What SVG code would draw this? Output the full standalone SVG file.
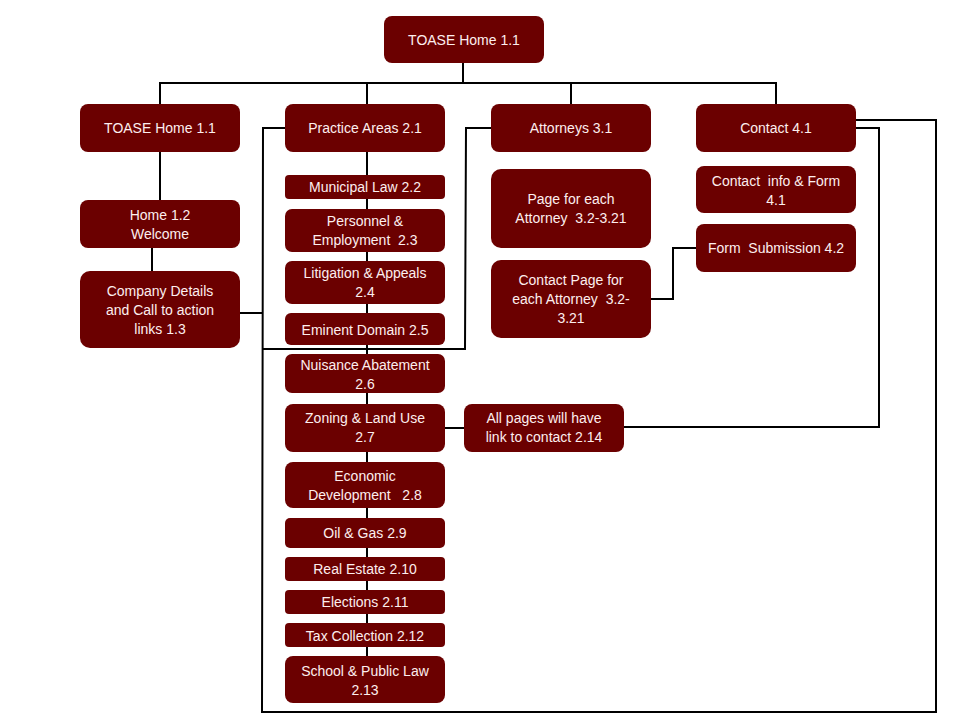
<svg xmlns="http://www.w3.org/2000/svg" width="960" height="720" viewBox="0 0 960 720">
<style>
.n rect{fill:#6b0000;}
.n text{fill:#fdeeee;font-family:"Liberation Sans",Arial,sans-serif;font-size:14px;text-anchor:middle;white-space:pre;}
.c{fill:none;stroke:#000;stroke-width:2;}
</style>
<rect width="960" height="720" fill="#fff"/>
<g id="connectors" class="c">
<polyline points="463,63 463,83"/>
<polyline points="160,104 160,83 776,83 776,104"/>
<polyline points="367,83 367,104"/>
<polyline points="571,83 571,104"/>
<polyline points="160,152 160,200"/>
<polyline points="152,248 152,271"/>
<polyline points="367,152 367,656"/>
<polyline points="240,313 262,313"/>
<polyline points="285,128 263,128 262,712 936,712 936,120 856,120"/>
<polyline points="491,128 466,128 465,349 262,349"/>
<polyline points="856,128 879,128 879,427 623,427"/>
<polyline points="445,428 464,428"/>
<polyline points="651,299 673,299 673,248 696,248"/>
</g>
<g id="n_top" class="n"><rect x="384" y="16" width="160" height="47" rx="8"/><text x="464" y="40" dy="0.35em">TOASE Home 1.1</text></g>
<g id="n_home11" class="n"><rect x="80" y="104" width="160" height="48" rx="8"/><text x="160" y="128" dy="0.35em">TOASE Home 1.1</text></g>
<g id="n_practice" class="n"><rect x="285" y="104" width="160" height="48" rx="8"/><text x="365" y="128" dy="0.35em">Practice Areas 2.1</text></g>
<g id="n_attorneys" class="n"><rect x="491" y="104" width="160" height="48" rx="8"/><text x="571" y="128" dy="0.35em">Attorneys 3.1</text></g>
<g id="n_contact" class="n"><rect x="696" y="104" width="160" height="48" rx="8"/><text x="776" y="128" dy="0.35em">Contact 4.1</text></g>
<g id="n_home12" class="n"><rect x="80" y="200" width="160" height="48" rx="8"/><text x="160" y="215" dy="0.35em">Home 1.2</text><text x="160" y="234" dy="0.35em">Welcome</text></g>
<g id="n_company" class="n"><rect x="80" y="271" width="160" height="77" rx="10"/><text x="160" y="291" dy="0.35em">Company Details</text><text x="160" y="310" dy="0.35em">and Call to action</text><text x="160" y="329" dy="0.35em">links 1.3</text></g>
<g id="n_municipal" class="n"><rect x="285" y="175" width="160" height="24" rx="4"/><text x="365" y="187" dy="0.35em">Municipal Law 2.2</text></g>
<g id="n_personnel" class="n"><rect x="285" y="209" width="160" height="43" rx="7"/><text x="365" y="221" dy="0.35em">Personnel &amp;</text><text x="365" y="240" dy="0.35em">Employment  2.3</text></g>
<g id="n_litigation" class="n"><rect x="285" y="261" width="160" height="43" rx="7"/><text x="365" y="273" dy="0.35em">Litigation &amp; Appeals</text><text x="365" y="292" dy="0.35em">2.4</text></g>
<g id="n_eminent" class="n"><rect x="285" y="313" width="160" height="32" rx="6"/><text x="365" y="330" dy="0.35em">Eminent Domain 2.5</text></g>
<g id="n_nuisance" class="n"><rect x="285" y="354" width="160" height="39" rx="7"/><text x="365" y="365" dy="0.35em">Nuisance Abatement</text><text x="365" y="384" dy="0.35em">2.6</text></g>
<g id="n_zoning" class="n"><rect x="285" y="404" width="160" height="48" rx="8"/><text x="365" y="418" dy="0.35em">Zoning &amp; Land Use</text><text x="365" y="437" dy="0.35em">2.7</text></g>
<g id="n_economic" class="n"><rect x="285" y="462" width="160" height="46" rx="8"/><text x="365" y="476" dy="0.35em">Economic</text><text x="365" y="495" dy="0.35em">Development   2.8</text></g>
<g id="n_oil" class="n"><rect x="285" y="518" width="160" height="30" rx="5"/><text x="365" y="533" dy="0.35em">Oil &amp; Gas 2.9</text></g>
<g id="n_realestate" class="n"><rect x="285" y="557" width="160" height="24" rx="4"/><text x="365" y="569" dy="0.35em">Real Estate 2.10</text></g>
<g id="n_elections" class="n"><rect x="285" y="590" width="160" height="24" rx="4"/><text x="365" y="602" dy="0.35em">Elections 2.11</text></g>
<g id="n_tax" class="n"><rect x="285" y="623" width="160" height="24" rx="4"/><text x="365" y="636" dy="0.35em">Tax Collection 2.12</text></g>
<g id="n_school" class="n"><rect x="285" y="656" width="160" height="47" rx="8"/><text x="365" y="671" dy="0.35em">School &amp; Public Law</text><text x="365" y="690" dy="0.35em">2.13</text></g>
<g id="n_allpages" class="n"><rect x="464" y="404" width="160" height="48" rx="8"/><text x="544" y="418" dy="0.35em">All pages will have</text><text x="544" y="437" dy="0.35em">link to contact 2.14</text></g>
<g id="n_pageeach" class="n"><rect x="491" y="169" width="160" height="79" rx="10"/><text x="571" y="199" dy="0.35em">Page for each</text><text x="571" y="218" dy="0.35em">Attorney  3.2-3.21</text></g>
<g id="n_contactpage" class="n"><rect x="491" y="260" width="160" height="78" rx="10"/><text x="571" y="280" dy="0.35em">Contact Page for</text><text x="571" y="299" dy="0.35em">each Attorney  3.2-</text><text x="571" y="318" dy="0.35em">3.21</text></g>
<g id="n_contactinfo" class="n"><rect x="696" y="166" width="160" height="47" rx="8"/><text x="776" y="181" dy="0.35em">Contact  info &amp; Form</text><text x="776" y="200" dy="0.35em">4.1</text></g>
<g id="n_formsub" class="n"><rect x="696" y="224" width="160" height="48" rx="8"/><text x="776" y="248" dy="0.35em">Form  Submission 4.2</text></g>
</svg>
